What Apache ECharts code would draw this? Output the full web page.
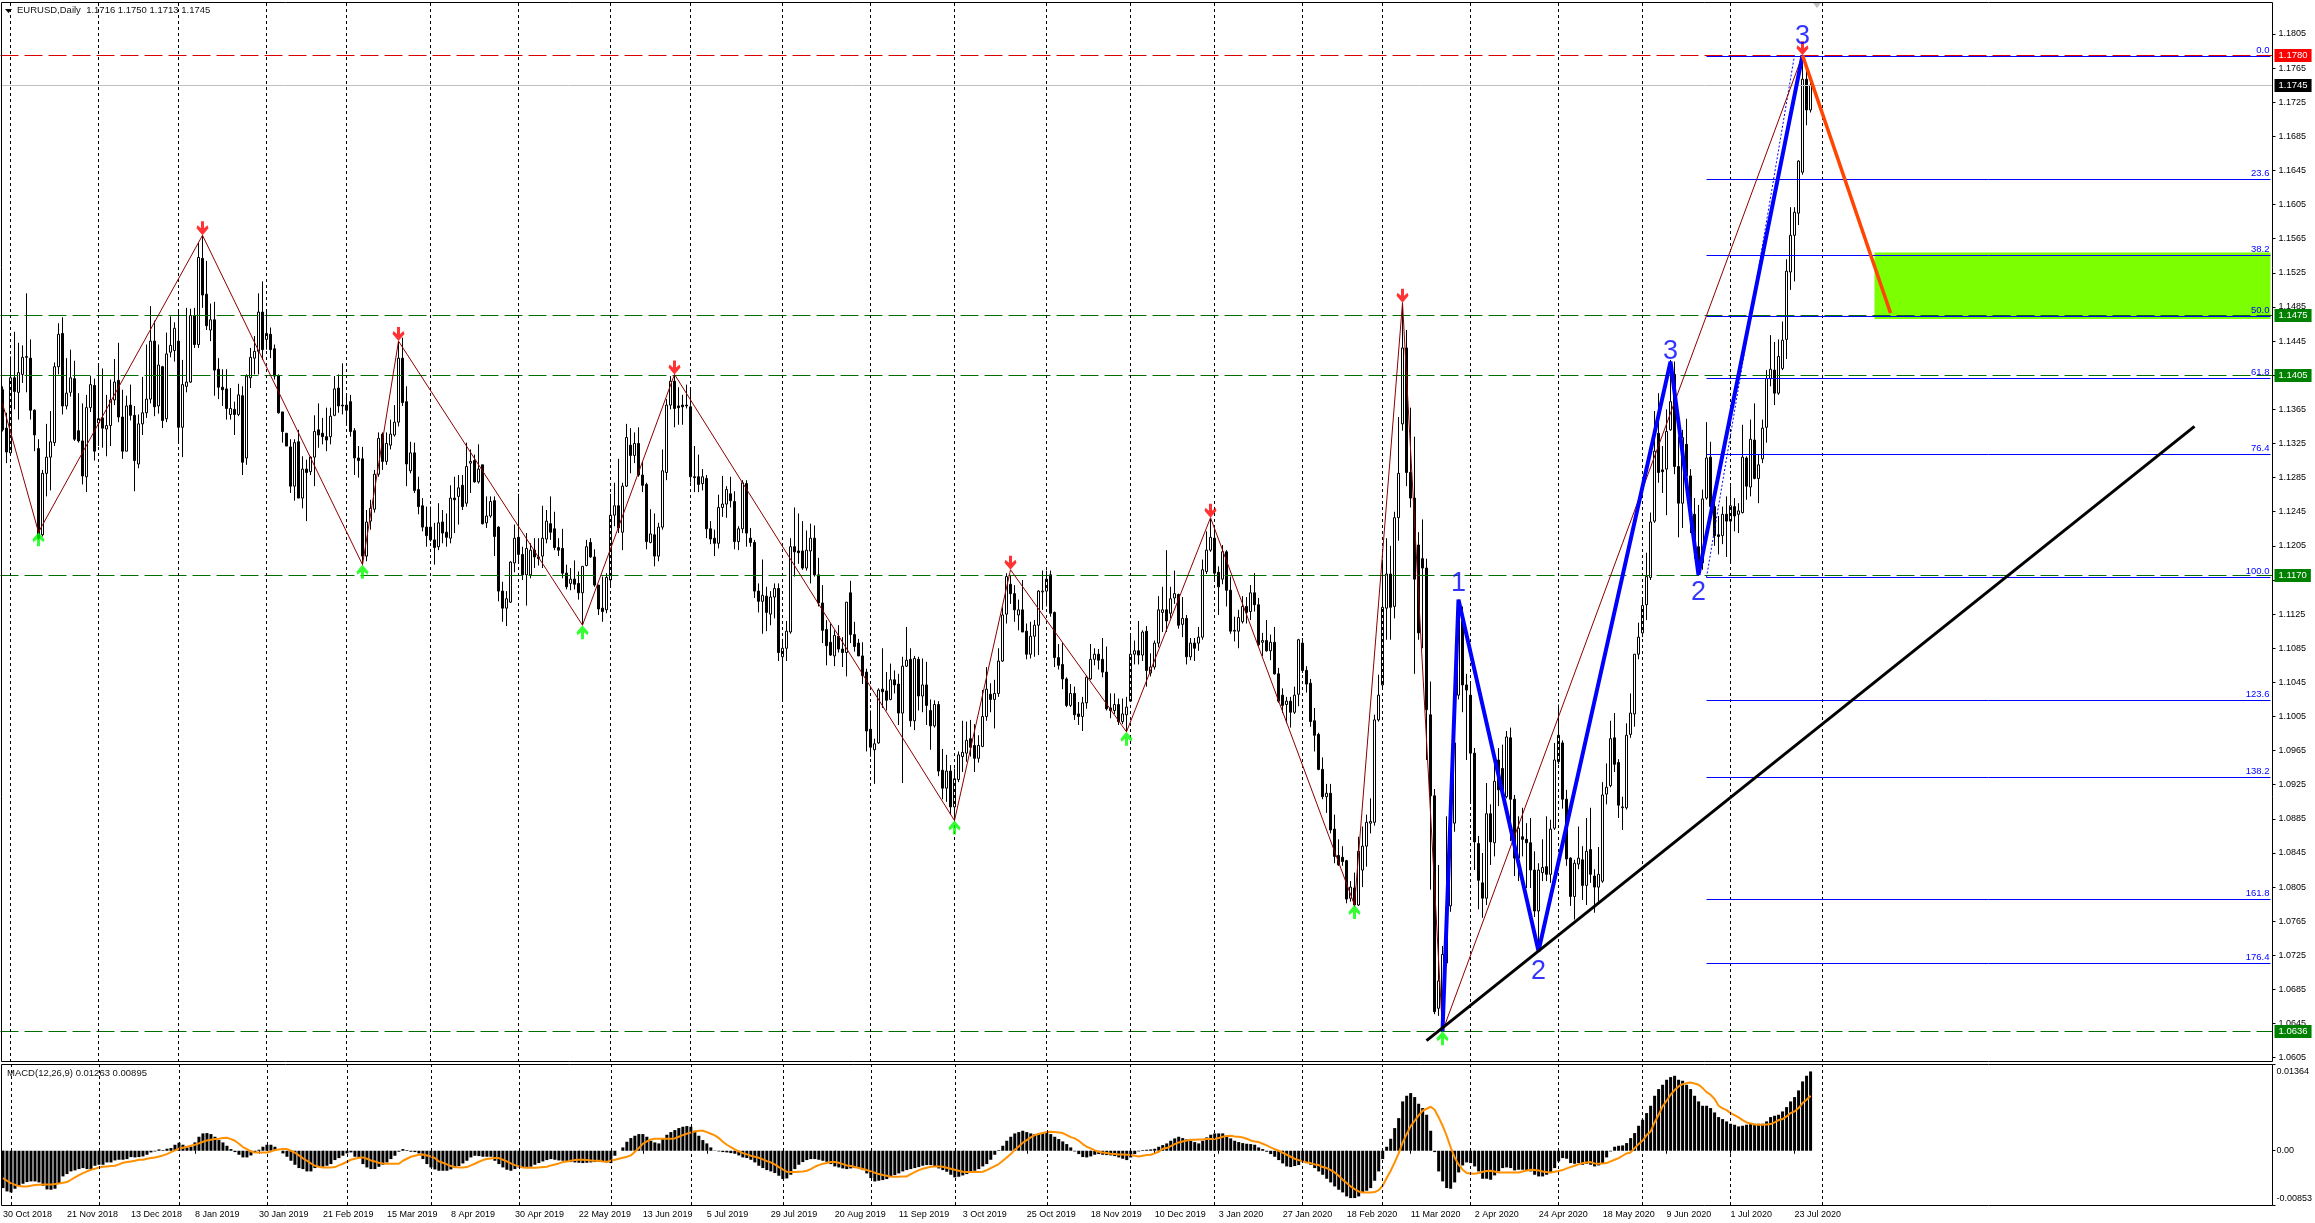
<!DOCTYPE html>
<html><head><meta charset="utf-8">
<style>html,body{margin:0;padding:0;background:#fff}#c{width:2315px;height:1223px}</style>
<script src="https://cdn.jsdelivr.net/npm/echarts@6/dist/echarts.min.js"></script>
</head><body><div id="c"></div><script>
// Daily EURUSD bars: [open, close, high, low] in 1/10000 of a price unit
const barsA=[[11388,11341,11392,11339],[11343,11315,11361,11302],[11314,11402,11427,11312],[11402,11386,11456,11365],[11385,11408,11443,11353],[11406,11426,11440,11396],[11426,11427,11501,11385],[11425,11364,11447,11353],[11364,11335,11365,11316],[11319,11214,11330,11212],
[11218,11290,11294,11216],[11290,11309,11348,11263],[11309,11327,11363,11270],[11326,11415,11420,11322],[11415,11453,11466,11406],[11454,11369,11473,11359],[11369,11384,11425,11365],[11385,11402,11435,11380],[11401,11330,11422,11328],[11340,11328,11384,11326],
[11328,11287,11372,11277],[11286,11367,11382,11268],[11367,11394,11404,11362],[11393,11316,11401,11305],[11349,11354,11419,11322],[11355,11343,11413,11320],[11342,11346,11382,11310],[11346,11376,11400,11322],[11376,11397,11424,11370],[11399,11356,11443,11350],
[11356,11316,11388,11307],[11316,11369,11381,11316],[11370,11358,11394,11352],[11358,11305,11369,11269],[11301,11348,11359,11296],[11348,11361,11403,11335],[11361,11377,11441,11355],[11377,11445,11486,11372],[11445,11368,11469,11357],[11369,11417,11441,11360],
[11415,11352,11416,11343],[11354,11430,11455,11350],[11432,11440,11474,11426],[11434,11460,11467,11421],[11445,11344,11482,11326],[11344,11394,11423,11309],[11392,11397,11484,11385],[11397,11475,11483,11396],[11475,11441,11484,11437],[11441,11543,11560,11437],
[11542,11499,11569,11484],[11500,11463,11539,11458],[11458,11470,11489,11445],[11470,11411,11491,11381],[11412,11391,11425,11377],[11391,11388,11412,11369],[11389,11366,11412,11353],[11359,11366,11390,11353],[11365,11359,11374,11335],[11359,11382,11395,11357],
[11381,11303,11392,11288],[11308,11404,11406,11300],[11402,11426,11437,11390],[11425,11433,11451,11406],[11433,11479,11501,11406],[11479,11435,11515,11423],[11447,11454,11479,11435],[11453,11435,11461,11425],[11436,11404,11441,11400],[11404,11361,11406,11360],
[11362,11339,11362,11326],[11337,11322,11337,11322],[11321,11275,11330,11267],[11275,11326,11330,11258],[11327,11261,11341,11261],[11261,11295,11310,11249],[11295,11291,11306,11234],[11292,11309,11310,11288],[11309,11339,11358,11275],[11341,11335,11372,11320],
[11337,11333,11355,11324],[11333,11329,11367,11316],[11333,11357,11367,11324],[11358,11389,11404,11357],[11390,11369,11406,11361],[11370,11369,11419,11359],[11370,11364,11382,11347],[11374,11339,11382,11333],[11340,11308,11343,11288],[11308,11305,11322,11285],
[11307,11193,11321,11182],[11193,11233,11247,11187],[11234,11249,11259,11224],[11248,11289,11294,11244],[11289,11331,11338,11286],[11336,11304,11338,11294],[11304,11325,11338,11300],[11323,11336,11353,11318],[11335,11350,11370,11333],[11350,11425,11445,11345]];
const barsB=[[11425,11373,11449,11369],[11374,11301,11392,11275],[11293,11314,11327,11290],[11314,11270,11326,11267],[11271,11251,11286,11242],[11252,11227,11261,11222],[11227,11217,11251,11204],[11227,11212,11251,11210],[11212,11203,11232,11183],[11204,11232,11255,11200],
[11233,11220,11247,11208],[11221,11215,11243,11204],[11214,11261,11276,11208],[11261,11259,11286,11220],[11263,11273,11288,11230],[11276,11251,11288,11247],[11255,11298,11326,11251],[11302,11304,11318,11267],[11305,11280,11312,11279],[11280,11295,11324,11278],
[11300,11231,11300,11230],[11232,11240,11263,11226],[11240,11257,11263,11238],[11258,11216,11263,11193],[11227,11152,11228,11140],[11152,11132,11163,11116],[11132,11143,11152,11111],[11139,11186,11187,11138],[11185,11214,11230,11174],[11215,11195,11266,11185],
[11195,11171,11204,11165],[11171,11202,11220,11135],[11171,11200,11208,11167],[11200,11192,11214,11179],[11192,11190,11214,11182],[11193,11214,11252,11179],[11213,11234,11247,11208],[11231,11221,11263,11212],[11225,11203,11245,11200],[11203,11200,11214,11193],
[11202,11173,11225,11167],[11173,11157,11183,11154],[11161,11166,11179,11153],[11166,11160,11188,11154],[11161,11150,11175,11142],[11150,11181,11181,11112],[11182,11204,11212,11181],[11209,11192,11214,11191],[11192,11159,11201,11157],[11159,11131,11159,11124],
[11132,11128,11169,11116],[11130,11168,11173,11126],[11165,11241,11266,11157],[11241,11252,11279,11228],[11252,11226,11307,11220],[11221,11275,11279,11200],[11275,11332,11348,11274],[11323,11311,11343,11290],[11311,11325,11338,11302],[11325,11288,11344,11286],
[11288,11276,11304,11268],[11277,11210,11279,11201],[11209,11219,11248,11208],[11218,11193,11243,11181],[11193,11227,11232,11187],[11227,11293,11318,11224],[11291,11370,11377,11282],[11370,11398,11404,11365],[11398,11366,11405,11344],[11369,11367,11391,11347],
[11370,11368,11382,11347],[11370,11369,11394,11366],[11368,11286,11388,11279],[11286,11285,11322,11268],[11286,11277,11312,11268],[11278,11286,11295,11270],[11284,11225,11288,11214],[11225,11213,11234,11207],[11214,11208,11224,11193],[11208,11250,11265,11202],
[11250,11254,11287,11239],[11254,11271,11275,11238],[11266,11258,11286,11250],[11257,11210,11269,11201],[11210,11225,11228,11200],[11225,11279,11282,11220],[11278,11220,11282,11204],[11214,11209,11226,11204],[11209,11152,11212,11144],[11152,11140,11161,11127],
[11140,11147,11189,11102],[11146,11127,11157,11105],[11125,11145,11152,11112],[11145,11155,11161,11120],[11155,11080,11161,11070],[11075,11085,11096,11024],[11085,11105,11117,11070],[11104,11204,11214,11102],[11204,11198,11250,11169],[11199,11197,11243,11184]];
const barsC=[[11199,11179,11234,11177],[11179,11200,11223,11176],[11199,11214,11231,11161],[11214,11171,11229,11169],[11171,11138,11191,11134],[11138,11106,11159,11091],[11107,11088,11118,11065],[11092,11077,11114,11076],[11076,11100,11106,11064],[11099,11084,11112,11080],
[11084,11080,11098,11063],[11080,11139,11139,11052],[11150,11101,11164,11091],[11101,11087,11116,11081],[11091,11076,11096,11076],[11076,11053,11092,11043],[11057,10988,11061,10964],[10990,10969,11012,10958],[10966,10973,10979,10926],[10974,11036,11038,10973],
[11037,11034,11085,11015],[11035,11024,11057,11012],[11025,11048,11067,11024],[11048,11042,11059,11032],[11043,11009,11055,10995],[11009,11064,11075,10927],[11064,11071,11110,11063],[11072,11000,11085,10993],[11000,11073,11076,10989],[11072,11029,11075,11012],
[11029,11042,11073,11010],[11042,11018,11069,10995],[11012,10994,11025,10966],[10994,11019,11024,10992],[11019,10941,11023,10935],[10942,10921,10967,10908],[10921,10941,10960,10905],[10941,10899,10948,10890],[10899,10932,10944,10885],[10931,10960,10964,10928],
[10958,10963,11000,10940],[10962,10977,10999,10952],[10979,10969,11001,10958],[10971,10956,10996,10940],[10956,10971,10983,10951],[10970,11005,11036,10969],[11005,11037,11063,11000],[11031,11025,11044,11010],[11025,11032,11048,10991],[11032,11070,11085,11028],
[11070,11124,11133,11069],[11125,11169,11173,11114],[11160,11149,11171,11137],[11149,11130,11159,11116],[11124,11130,11142,11106],[11130,11104,11165,11104],[11105,11078,11114,11072],[11078,11099,11116,11073],[11099,11112,11118,11075],[11112,11152,11153,11077],
[11151,11152,11176,11130],[11152,11166,11176,11134],[11171,11126,11176,11122],[11127,11074,11128,11063],[11074,11065,11090,11060],[11066,11049,11092,11037],[11049,11018,11051,11016],[11018,11032,11043,11016],[11032,11007,11040,11001],[11008,11005,11022,10995],
[11005,11021,11028,10988],[11021,11051,11053,11014],[11049,11072,11090,11048],[11072,11078,11085,11065],[11078,11071,11084,11060],[11072,11057,11097,11051],[11057,11014,11087,11012],[11015,11012,11032,11003],[11012,11019,11032,11008],[11019,10999,11026,10995],
[10999,11008,11026,10996],[11007,11016,11028,10987],[11023,11078,11101,11022],[11078,11082,11094,11066],[11082,11077,11117,11066],[11077,11104,11106,11070],[11105,11059,11111,11040],[11056,11063,11079,11052],[11063,11091,11094,11060],[11091,11130,11146,11086],
[11127,11130,11157,11104],[11130,11117,11200,11104],[11126,11143,11157,11120],[11144,11149,11176,11137],[11148,11112,11149,11108],[11113,11120,11145,11098],[11120,11075,11124,11066],[11075,11091,11097,11071],[11091,11085,11097,11070],[11091,11098,11110,11082]];
const barsD=[[11098,11177,11189,11095],[11175,11200,11222,11172],[11200,11215,11237,11198],[11214,11173,11226,11165],[11174,11157,11181,11124],[11166,11198,11206,11160],[11198,11153,11200,11134],[11153,11105,11169,11102],[11105,11106,11122,11093],[11105,11121,11130,11085],
[11116,11134,11146,11114],[11134,11127,11145,11114],[11128,11150,11159,11118],[11150,11136,11173,11128],[11136,11089,11144,11087],[11092,11094,11103,11076],[11094,11082,11118,11081],[11082,11092,11101,11071],[11092,11055,11110,11054],[11055,11023,11062,11021],
[11030,11018,11038,11009],[11019,11023,11028,10997],[11023,11010,11028,10992],[11010,11030,11040,11008],[11031,11095,11096,11017],[11091,11059,11097,11056],[11059,11043,11064,11033],[11044,10999,11049,10993],[11000,10983,11015,10964],[10984,10943,10986,10942],
[10943,10911,10957,10908],[10911,10915,10926,10892],[10915,10872,10926,10868],[10873,10841,10890,10833],[10842,10831,10861,10830],[10840,10835,10853,10830],[10836,10791,10837,10786],[10792,10805,10812,10788],[10804,10784,10822,10782],[10784,10847,10864,10783],
[10825,10853,10876,10805],[10853,10881,10890,10829],[10880,10882,10909,10868],[10881,11001,11007,10877],[11001,11030,11054,10999],[11042,11133,11189,11036],[11132,11172,11214,11095],[11172,11133,11205,11095],[11134,11238,11245,11120],[11238,11290,11356,11211],
[11348,11437,11490,11340],[11437,11291,11458,11275],[11291,11261,11367,11250],[11261,11166,11333,11055],[11206,11103,11221,11095],[11190,11179,11236,11085],[11179,11013,11190,10954],[11007,10912,11046,10802],[10912,10659,10920,10656],[10663,10695,10831,10654],
[10640,10726,10736,10636],[10716,10781,10888,10712],[10783,10906,10922,10776],[10880,10974,11010,10870],[11030,11130,11142,11025],[11117,11042,11134,11010],[11042,11036,11055,10954],[11030,10962,11044,10904],[10962,10858,10968,10825],[10856,10813,10865,10779],
[10810,10792,10845,10769],[10792,10891,10927,10784],[10891,10858,10902,10831],[10857,10929,10954,10841],[10954,10919,10968,10900],[10944,10913,10972,10908],[10911,10981,10988,10909],[10980,10908,10992,10859],[10908,10839,10913,10818],[10839,10874,10888,10812],
[10864,10861,10898,10841],[10861,10857,10880,10804],[10857,10825,10886,10804],[10825,10777,10847,10770],[10777,10825,10833,10740],[10822,10828,10861,10812],[10829,10820,10888,10812],[10820,10873,10884,10810],[10874,10954,10974,10872],[10952,10983,11019,10949],
[10974,10908,10977,10897],[10908,10838,10919,10830],[10839,10794,10840,10783],[10794,10833,10837,10767],[10832,10839,10876,10826],[10837,10807,10853,10790],[10807,10847,10886,10784],[10849,10820,10898,10810],[10818,10805,10826,10775],[10805,10820,10852,10788]];
const barsE=[[10812,10913,10928,10810],[10914,10922,10950,10902],[10924,10979,11000,10922],[10980,10949,11009,10940],[10951,10901,10955,10886],[10898,10899,10911,10872],[10898,10983,10997,10896],[10984,11009,11032,10980],[11008,11078,11078,10993],[11078,11098,11115,11072],
[11103,11135,11142,11098],[11136,11169,11197,11118],[11168,11233,11244,11165],[11234,11316,11363,11232],[11337,11291,11384,11279],[11294,11292,11322,11267],[11295,11339,11365,11241],[11341,11374,11423,11340],[11406,11298,11421,11289],[11298,11255,11333,11215],
[11255,11332,11341,11226],[11324,11287,11354,11280],[11287,11242,11295,11220],[11242,11204,11261,11190],[11204,11185,11253,11170],[11185,11260,11271,11177],[11261,11308,11350,11259],[11309,11251,11327,11245],[11251,11217,11259,11205],[11218,11216,11240,11195],
[11217,11242,11251,11207],[11242,11234,11263,11192],[11234,11252,11275,11186],[11251,11240,11261,11222],[11242,11246,11255,11220],[11244,11309,11347,11243],[11308,11275,11310,11259],[11274,11330,11353,11263],[11329,11284,11372,11283],[11284,11300,11312,11255],
[11307,11343,11353,11302],[11344,11401,11411,11326],[11401,11412,11452,11392],[11411,11384,11444,11370],[11384,11427,11447,11382],[11413,11446,11468,11411],[11447,11527,11541,11424],[11526,11569,11602,11505],[11569,11596,11602,11515],[11595,11656,11657,11581],
[11643,11752,11780,11640],[11752,11716,11770,11698],[11716,11745,11750,11713]];

// MACD histogram and signal readings, in units of macdUnit
const macdUnit=0.0000524;
const histA=[-112,-122,-125,-114,-105,-99,-94,-92,-92,-95,-105,-116,-117,-114,-97,-77,-70,-62,-59,-55,-52,-55,-57,-45,-42,-42,-35,-35,-29,-27,-27,-25,-19,-20,-19,-17,-12,-5,-2,4,2,6,8,18,24,18,10,12,25,42,52,53,50,42,32,25,15,5,-4,-12,-20,-20,-14,-5,3,12,18,18,12,0,-8,-18,-30,-42,-52,-55,-62,-62,-52,-48,-48,-45,-40,-28,-22,-15,-8,-5,-18,-20,-40,-50,-55,-55,-48,-42,-35,-25,-15,-3,5,2,-3,-4,-8,-25,-40,-50,-56,-60,-60,-60,-56,-52,-46,-38,-30,-20,-15,-16,-18,-18,-18,-30,-40,-50,-57,-60,-55,-50,-50,-50,-48,-42,-37,-32,-28,-25,-27,-29,-30,-32,-34,-35,-36];
const histB=[-37,-36,-35,-34,-33,-33,-35,-37,-15,0,10,27,38,45,50,50,42,30,25,22,35,48,56,62,68,72,74,72,60,45,32,22,10,1,-2,-4,-5,-7,-9,-14,-20,-22,-27,-35,-45,-52,-58,-62,-67,-75,-85,-83,-72,-55,-42,-34,-28,-25,-25,-27,-30,-33,-40,-47,-50,-53,-55,-53,-52,-52,-58,-68,-82,-92,-90,-88,-85,-78,-73,-68,-62,-58,-55,-52,-49,-45,-43,-43,-48,-53,-58,-63,-72,-80,-78,-74,-70,-66,-60,-55,-47,-40,-27,-12,2,15,30,42,52,56,60,56,52,50,51,53,55,50,42,35,28,20,10,-2,-10,-19,-20,-17,-12,-10,-12,-13,-14,-16,-20,-24,-28,-20,-10,-2,2,3,4,6,12,17,22,30,37,42,38,34,30,26,22,30,40,48,52,52,52,45,37,30,26,23,21,20,18,10,5,-3,-10,-18,-28,-38,-47,-49,-46,-43];
const histC=[-33,-37,-42,-52,-62,-72,-84,-95,-107,-117,-125,-137,-142,-142,-137,-127,-120,-112,-90,-62,-25,12,36,68,98,148,165,173,161,141,128,108,60,-4,-62,-92,-112,-114,-95,-65,-44,-35,-37,-47,-62,-84,-84,-87,-74,-62,-52,-50,-52,-59,-57,-57,-59,-62,-72,-77,-77,-72,-67,-52,-32,-22,-24,-37,-39,-37,-42,-39,-42,-47,-44,-37,-20,-2,12,15,16,23,38,53,75,93,113,135,165,185,198,213,221,225,213,210,198,185,165,148,135,135,128,115,101,95,88,81,78,73,75,78,81,81,81,81,88,101,105,108,118,131,148,161,181,208,225,238];
const signalA=[-82,-90,-98,-102,-106,-107,-107,-105,-103,-102,-101,-101,-101,-100,-98,-96,-94,-87,-80,-73,-67,-62,-57,-54,-50,-48,-47,-46,-45,-41,-36,-34,-32,-30,-27,-27,-24,-22,-20,-17,-14,-10,-4,1,6,9,12,15,18,22,27,31,33,35,36,38,39,35,30,21,11,5,-2,-5,-5,-5,-5,-2,2,4,5,5,0,-6,-14,-23,-30,-38,-45,-48,-50,-50,-50,-49,-44,-39,-33,-27,-24,-21,-20,-24,-29,-32,-36,-38,-39,-39,-39,-39,-30,-24,-18,-15,-12,-11,-14,-17,-22,-32,-36,-41,-46,-49,-50,-50,-49,-44,-39,-33,-28,-25,-23,-22,-22,-27,-32,-38,-43,-47,-50,-51,-51,-51,-50,-49,-48,-44,-41,-38,-34,-32,-30,-28,-27];
const signalB=[-27,-28,-29,-30,-30,-32,-33,-30,-27,-24,-21,-18,-14,-3,8,21,28,34,36,36,36,36,36,37,42,47,51,55,58,60,60,56,51,46,38,27,18,11,4,-2,-7,-11,-15,-18,-21,-26,-31,-35,-41,-49,-56,-63,-64,-64,-63,-62,-60,-55,-48,-43,-39,-37,-34,-34,-36,-40,-44,-46,-49,-52,-55,-58,-62,-66,-70,-73,-75,-78,-78,-78,-77,-77,-70,-64,-58,-54,-51,-48,-47,-47,-48,-51,-54,-57,-60,-63,-64,-64,-64,-64,-63,-58,-52,-46,-40,-30,-20,-10,3,13,24,32,40,47,50,53,56,57,56,55,53,47,41,37,30,20,12,7,1,-3,-5,-7,-9,-10,-11,-11,-12,-13,-15,-17,-15,-13,-12,-8,-3,6,8,14,20,25,28,31,33,33,34,34,35,35,35,38,42,44,45,43,42,40,36,31,28,26,21,16,10,5,0,-6,-12,-18,-24,-28];
const signalC=[-32,-35,-37,-41,-43,-49,-52,-58,-65,-75,-87,-97,-107,-115,-122,-125,-125,-125,-124,-118,-105,-82,-60,-35,-8,25,50,74,90,106,120,126,132,123,100,75,45,10,-20,-42,-57,-67,-68,-69,-67,-63,-61,-60,-62,-65,-65,-65,-65,-65,-65,-62,-59,-57,-58,-59,-62,-64,-65,-63,-61,-58,-53,-49,-45,-41,-37,-35,-34,-38,-39,-38,-37,-32,-27,-22,-15,-8,-5,8,20,30,47,58,85,108,133,150,168,182,193,200,203,205,202,198,188,176,168,155,135,127,122,113,107,100,92,85,82,79,78,78,79,80,85,92,95,103,113,118,128,143,153,165];

// Tick labels, one every 16 bars from the first bar
const timeLabels=["30 Oct 2018","21 Nov 2018","13 Dec 2018","8 Jan 2019","30 Jan 2019","21 Feb 2019","15 Mar 2019","8 Apr 2019","30 Apr 2019","22 May 2019","13 Jun 2019","5 Jul 2019","29 Jul 2019","20 Aug 2019","11 Sep 2019","3 Oct 2019","25 Oct 2019","18 Nov 2019","10 Dec 2019","3 Jan 2020","27 Jan 2020","18 Feb 2020","11 Mar 2020","2 Apr 2020","24 Apr 2020","18 May 2020","9 Jun 2020","1 Jul 2020","23 Jul 2020"];
const priceTicks=[1.1805,1.1765,1.1725,1.1685,1.1645,1.1605,1.1565,1.1525,1.1485,1.1445,1.1405,1.1365,1.1325,1.1285,1.1245,1.1205,1.1165,1.1125,1.1085,1.1045,1.1005,1.0965,1.0925,1.0885,1.0845,1.0805,1.0765,1.0725,1.0685,1.0645,1.0605];
const macdTicks=[0.01364,0,-0.00853];
const macdLabels=[[0.01247,'0.01364'],[0,'0.00'],[-0.0075,'-0.00853']];
const monthStarts=[2,24,44,66,86,107,129,152,172,195,217,238,261,282,303,325,345,367,389,410,432,455];
const priceTags=[[1.1780,'#dd0000','#ff0000'],[1.1475,'#006f00','#008000'],[1.1405,'#006f00','#008000'],[1.1170,'#006f00','#008000'],[1.0636,'#006f00','#008000']];
const lastPrice=1.1745;
const fibLevels=[["0.0",1.1779],["23.6",1.1634],["38.2",1.1545],["50.0",1.1474],["61.8",1.1401],["76.4",1.1312],["100.0",1.1168],["123.6",1.1024],["138.2",1.0934],["161.8",1.0790],["176.4",1.0716]];
const fibStart=426;
const fibLine=[[426,1.1168],[448,1.1780]];
const zigzag=[[0,1.1372],[9,1.1221],[50,1.1569],[90,1.1183],[99,1.1445],[145,1.1112],[168,1.1406],[238,1.0883],[252,1.1177],[281,1.0987],[302,1.1238],[338,1.0784],[350,1.1490],[360,1.0636],[450,1.1780]];
const highMarks=[[50,1.1569],[99,1.1445],[168,1.1406],[252,1.1177],[302,1.1238],[350,1.1490],[450,1.1780]];
const lowMarks=[[9,1.1221],[90,1.1183],[145,1.1112],[238,1.0883],[281,1.0987],[338,1.0784],[360,1.0636]];
const waveLine=[[360,1.0636],[364,1.1142],[384,1.0730],[417,1.1421],[424,1.1171],[450,1.1780]];
const waveLabels=[["1",364,1.1161],["2",384,1.0706],["3",417,1.1433],["2",424,1.1150],["3",450,1.1802]];
const projection=[[450,1.1780],[472,1.1478]];
const trendLine=[[356,1.0625],[548,1.1345]];
const zone=[468,1.1549,567,1.1471];
const slots=568;

const bars=[...barsA,...barsB,...barsC,...barsD,...barsE];
const candleData=bars.map(b=>[b[0]/1e4,b[1]/1e4,b[3]/1e4,b[2]/1e4]);
const histData=[...histA,...histB,...histC].map(v=>v*macdUnit);
const signalData=[...signalA,...signalB,...signalC].map(v=>v*macdUnit);
const cats=Array.from({length:slots},(_,i)=>(i%16===0&&timeLabels[i/16])||'');
const tickAt=i=>i%16===0&&i/16<timeLabels.length;

const priceMin=1.06,priceMax=1.18425,plotTop=2,plotHeight=1060;
// nudge a level to the centre of its pixel row so a 1px line stays sharp
const crisp=v=>{const k=plotHeight/(priceMax-priceMin),y=plotTop+(priceMax-v)*k;return priceMax-(Math.floor(y)+0.5-plotTop)/k;};

const F='"Liberation Sans",Arial,sans-serif';
const noSym={showSymbol:false,symbol:'none',animation:false,silent:true};
const vLines={symbol:'none',silent:true,animation:false,label:{show:false},
  lineStyle:{color:'#000',width:1,type:[3,3]},data:monthStarts.map(i=>({xAxis:i}))};
const arrowDown='path://M4.5 0H7.5V7L11 4L12 7L6 14L0 7L1 4L4.5 7Z';
const arrowUp='path://M4.5 14H7.5V7L11 10L12 7L6 0L0 7L1 10L4.5 7Z';
const tagLabel=(v,bg)=>({show:true,position:'end',distance:2,formatter:()=>v.toFixed(4),color:'#fff',backgroundColor:bg,padding:[2,4,1,4],fontSize:9.5,fontFamily:F});
const tag=(v,line,bg)=>({yAxis:crisp(v),lineStyle:{color:line,width:1,type:[18,6]},label:tagLabel(v,bg)});

const option={
  animation:false,backgroundColor:'#fff',
  title:[
    {text:'EURUSD,Daily  1.1716 1.1750 1.1713 1.1745',left:17,top:5,padding:0,textStyle:{fontSize:9.5,fontWeight:'normal',color:'#111',fontFamily:F}},
    {text:'MACD(12,26,9) 0.01263 0.00895',left:7,top:1068,padding:0,textStyle:{fontSize:9.5,fontWeight:'normal',color:'#111',fontFamily:F}}
  ],
  grid:[{left:0.5,top:plotTop,width:2272,height:plotHeight},{left:0.5,top:1064,width:2272,height:141}],
  xAxis:[
    {type:'category',gridIndex:0,data:cats,boundaryGap:true,axisLine:{show:false},axisTick:{show:false},axisLabel:{show:false},splitLine:{show:false}},
    {type:'category',gridIndex:1,data:cats,boundaryGap:true,axisLine:{show:false},
     axisTick:{show:true,interval:(i)=>tickAt(i),alignWithLabel:true,length:3,lineStyle:{color:'#000'}},
     axisLabel:{show:true,interval:(i)=>tickAt(i),align:'left',margin:5,fontSize:9,color:'#000',fontFamily:F,hideOverlap:false},splitLine:{show:false}}
  ],
  yAxis:[
    {type:'value',gridIndex:0,position:'right',min:priceMin,max:priceMax,axisLine:{show:false},
     axisTick:{show:true,length:3,customValues:priceTicks,lineStyle:{color:'#000'}},
     axisLabel:{show:true,customValues:priceTicks,formatter:v=>v.toFixed(4),margin:6,fontSize:9,color:'#000',fontFamily:F},splitLine:{show:false}},
    {type:'value',gridIndex:1,position:'right',min:-0.00853,max:0.01364,axisLine:{show:false},
     axisTick:{show:true,length:3,customValues:macdTicks,lineStyle:{color:'#000'}},
     axisLabel:{show:true,customValues:macdLabels.map(m=>m[0]),formatter:v=>{const m=macdLabels.find(x=>Math.abs(x[0]-v)<1e-7);return m?m[1]:'';},margin:4,fontSize:9,color:'#000',fontFamily:F},splitLine:{show:false}}
  ],
  graphic:[
    {type:'rect',silent:true,z:50,shape:{x:1.5,y:2.5,width:2271,height:1059},style:{fill:'none',stroke:'#000',lineWidth:1}},
    {type:'rect',silent:true,z:50,shape:{x:1.5,y:1064.5,width:2271,height:141},style:{fill:'none',stroke:'#000',lineWidth:1}},
    {type:'polygon',silent:true,z:50,shape:{points:[[5,9],[12,9],[8.5,13]]},style:{fill:'#000'}},
    {type:'polygon',silent:true,z:50,shape:{points:[[1813,3],[1821,3],[1817,8]]},style:{fill:'#c0c0c0'}}
  ],
  series:[
    {type:'line',name:'zone',xAxisIndex:0,yAxisIndex:0,data:[],z:1,...noSym,
     markArea:{silent:true,animation:false,itemStyle:{color:'#7cff00',opacity:1},data:[[{coord:[zone[0],zone[1]]},{coord:[zone[2],zone[3]]}]]}},
    {type:'line',name:'levels',xAxisIndex:0,yAxisIndex:0,data:[],z:2,...noSym,
     markLine:{symbol:'none',silent:true,animation:false,precision:6,
       data:[{yAxis:crisp(lastPrice),lineStyle:{color:'#c0c0c0',width:1,type:'solid'},label:tagLabel(lastPrice,'#000')},
             ...priceTags.map(t=>tag(t[0],t[1],t[2]))]}},
    {type:'line',name:'grid',xAxisIndex:0,yAxisIndex:0,data:[],z:2,...noSym,markLine:vLines},
    {type:'candlestick',name:'EURUSD',xAxisIndex:0,yAxisIndex:0,data:candleData,barWidth:3,z:3,silent:true,animation:false,
     itemStyle:{color:'#fff',color0:'#000',borderColor:'#000',borderColor0:'#000',borderWidth:1}},
    {type:'line',name:'fib',xAxisIndex:0,yAxisIndex:0,data:[],z:4,...noSym,
     markLine:{symbol:'none',silent:true,animation:false,precision:6,lineStyle:{color:'#0000ff',width:1,type:'solid'},
       data:fibLevels.map(f=>[{coord:[fibStart,crisp(f[1])],name:f[0]},{coord:[slots-1,crisp(f[1])]}]),
       label:{show:true,position:'insideEndTop',distance:1,formatter:'{b}',color:'#0000ff',fontSize:9.5,fontFamily:F}}},
    {type:'line',name:'fibLine',xAxisIndex:0,yAxisIndex:0,data:fibLine,z:5,...noSym,lineStyle:{color:'#0000ff',width:1,type:[2,2]}},
    {type:'line',name:'zigzag',xAxisIndex:0,yAxisIndex:0,data:zigzag,z:6,...noSym,lineStyle:{color:'#8b0000',width:1}},
    {type:'line',name:'waves',xAxisIndex:0,yAxisIndex:0,data:waveLine,z:7,...noSym,lineStyle:{color:'#0000ff',width:4}},
    {type:'line',name:'projection',xAxisIndex:0,yAxisIndex:0,data:projection,z:7,...noSym,lineStyle:{color:'#ff4500',width:3.5}},
    {type:'line',name:'trend',xAxisIndex:0,yAxisIndex:0,data:trendLine,z:8,...noSym,lineStyle:{color:'#000',width:3}},
    {type:'scatter',name:'highs',xAxisIndex:0,yAxisIndex:0,data:highMarks,z:9,silent:true,symbol:arrowDown,symbolSize:[12,14],symbolOffset:[0,-7],itemStyle:{color:'#ff0000'}},
    {type:'scatter',name:'lows',xAxisIndex:0,yAxisIndex:0,data:lowMarks,z:9,silent:true,symbol:arrowUp,symbolSize:[12,14],symbolOffset:[0,7],itemStyle:{color:'#00ff00'}},
    {type:'scatter',name:'waveLabels',xAxisIndex:0,yAxisIndex:0,z:10,silent:true,symbolSize:1,itemStyle:{color:'transparent'},
     data:waveLabels.map(w=>({name:w[0],value:[w[1],w[2]]})),
     label:{show:true,position:'inside',formatter:'{b}',color:'#0000ff',fontSize:27,fontFamily:F}},
    {type:'line',name:'gridM',xAxisIndex:1,yAxisIndex:1,data:[],z:1,...noSym,markLine:vLines},
    {type:'bar',name:'MACD',xAxisIndex:1,yAxisIndex:1,data:histData,barWidth:3,z:2,silent:true,animation:false,itemStyle:{color:'#000'}},
    {type:'line',name:'Signal',xAxisIndex:1,yAxisIndex:1,data:signalData,z:3,...noSym,lineStyle:{color:'#ff9000',width:2}}
  ]
};
echarts.init(document.getElementById('c'),null,{renderer:'canvas'}).setOption(option);
</script></body></html>
